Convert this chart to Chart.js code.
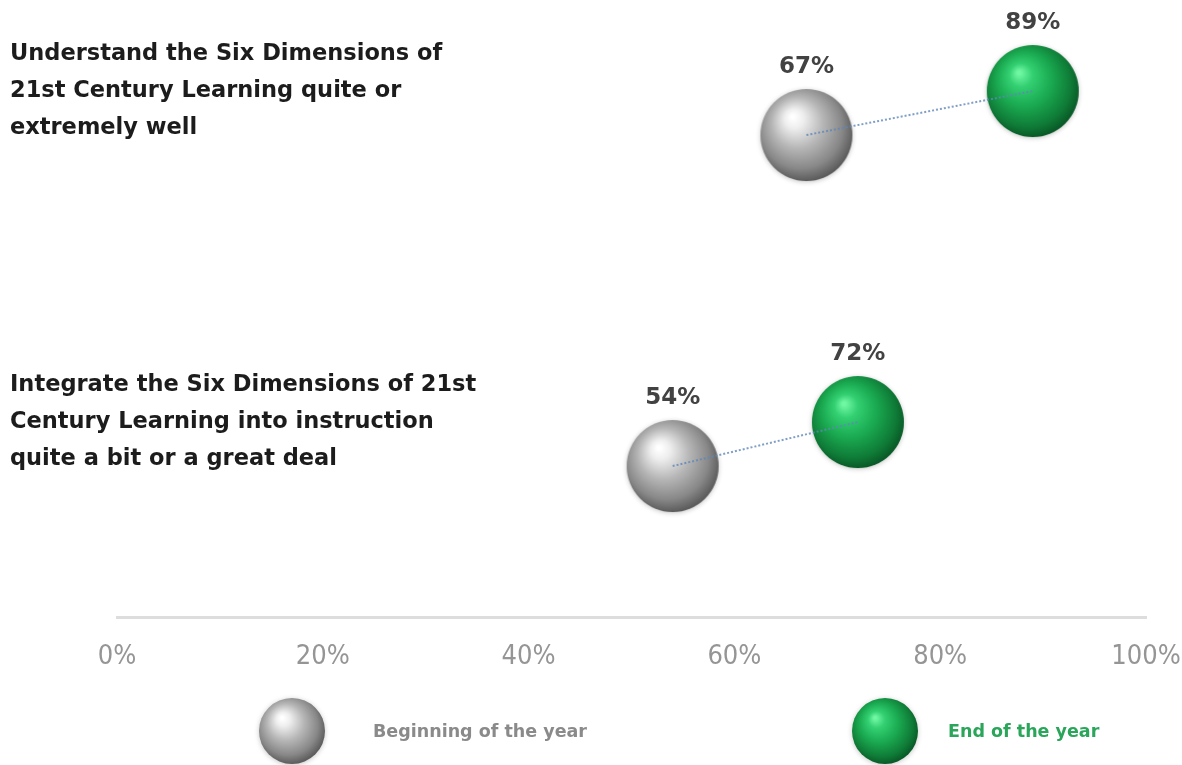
<!DOCTYPE html>
<html>
<head>
<meta charset="utf-8">
<script src="https://cdn.jsdelivr.net/npm/chart.js@4.4.1/dist/chart.umd.min.js"></script>
<style>
  html, body { margin: 0; padding: 0; background: #ffffff; }
  #wrap { width: 1182px; height: 765px; }
</style>
</head>
<body>
<div id="wrap"><canvas id="chart" width="1182" height="765"></canvas></div>
<script>
// Survey statements, one row each (top to bottom)
const statements = [
  ['Understand the Six Dimensions of', '21st Century Learning quite or', 'extremely well'],
  ['Integrate the Six Dimensions of 21st', 'Century Learning into instruction', 'quite a bit or a great deal']
];
const seriesNames = ['Beginning of the year', 'End of the year'];
const beginningValues = [67, 54];
const endValues = [89, 72];
const xTickValues = [0, 20, 40, 60, 80, 100];

// Styling
const BEGIN_DROP = 0.133;            // beginning-of-year sphere sits a little below its row
const SPHERE_R = 46;
const LEGEND_R = 33;
const LABEL_FONT = '"DejaVu Sans", "Open Sans", sans-serif';
const AXIS_FONT = '"DejaVu Sans Condensed", "Liberation Sans Narrow", "Open Sans", sans-serif';

const grayStops = [[0, '#ffffff'], [0.16, '#eeeeee'], [0.48, '#b6b6b6'], [0.8, '#888888'], [1, '#5c5c5c']];
const greenStops = [[0, '#6ff7a2'], [0.2, '#33d072'], [0.52, '#1aa950'], [0.84, '#0f7b37'], [1, '#095a27']];

function makeSphere(r, stops) {
  const pad = 6;
  const c = document.createElement('canvas');
  c.width = c.height = 2 * (r + pad);
  const g = c.getContext('2d');
  const cx = r + pad, cy = r + pad;
  g.save();
  g.shadowColor = 'rgba(0,0,0,0.22)';
  g.shadowBlur = 5;
  g.shadowOffsetY = 1;
  const grad = g.createRadialGradient(cx - r * 0.3, cy - r * 0.4, r * 0.04, cx - r * 0.08, cy - r * 0.12, r * 1.12);
  stops.forEach(([o, col]) => grad.addColorStop(o, col));
  g.fillStyle = grad;
  g.beginPath();
  g.arc(cx, cy, r, 0, Math.PI * 2);
  g.fill();
  g.restore();
  return c;
}

const spheres = [makeSphere(SPHERE_R, grayStops), makeSphere(SPHERE_R, greenStops)];
const legendSpheres = [makeSphere(LEGEND_R, grayStops), makeSphere(LEGEND_R, greenStops)];
const legendTextColors = ['#8a8a8a', '#2aa55a'];

const rowY = i => statements.length - 1 - i;

// Dotted connector between the two spheres of each row, drawn above the grey one
const connectorPlugin = {
  id: 'connector',
  afterDatasetDraw(chart, args) {
    if (args.index !== 0) return;
    const a = chart.getDatasetMeta(0).data;
    const b = chart.getDatasetMeta(1).data;
    const ctx = chart.ctx;
    ctx.save();
    ctx.setLineDash([2, 2]);
    ctx.lineWidth = 2;
    ctx.strokeStyle = 'rgba(95,135,185,0.8)';
    a.forEach((p, i) => {
      ctx.beginPath();
      ctx.moveTo(p.x, p.y);
      ctx.lineTo(b[i].x, b[i].y);
      ctx.stroke();
    });
    ctx.restore();
  }
};

// Percentage above every sphere
const valueLabelPlugin = {
  id: 'valueLabels',
  afterDatasetsDraw(chart) {
    const ctx = chart.ctx;
    ctx.save();
    ctx.font = 'bold 23px ' + LABEL_FONT;
    ctx.fillStyle = '#424242';
    ctx.textAlign = 'center';
    ctx.textBaseline = 'middle';
    chart.data.datasets.forEach((ds, di) => {
      chart.getDatasetMeta(di).data.forEach((p, i) => {
        ctx.fillText(ds.data[i].x + '%', p.x, p.y - SPHERE_R - 22);
      });
    });
    ctx.restore();
  }
};

// Legend row under the axis
const sphereLegendPlugin = {
  id: 'sphereLegend',
  afterDraw(chart) {
    const ctx = chart.ctx;
    const cy = 731;
    const sphereX = [292, 885];
    const textX = [373, 948];
    ctx.save();
    ctx.font = 'bold 17.5px ' + LABEL_FONT;
    ctx.textBaseline = 'middle';
    ctx.textAlign = 'left';
    chart.data.datasets.forEach((ds, i) => {
      const img = legendSpheres[i];
      ctx.drawImage(img, sphereX[i] - img.width / 2, cy - img.height / 2);
      ctx.fillStyle = legendTextColors[i];
      ctx.fillText(ds.label, textX[i], cy + 1);
    });
    ctx.restore();
  }
};

function build() {
  new Chart(document.getElementById('chart'), {
    type: 'scatter',
    data: {
      datasets: [
        {
          label: seriesNames[0],
          data: beginningValues.map((v, i) => ({ x: v, y: rowY(i) - BEGIN_DROP })),
          pointStyle: spheres[0],
          pointRadius: SPHERE_R,
          clip: false
        },
        {
          label: seriesNames[1],
          data: endValues.map((v, i) => ({ x: v, y: rowY(i) })),
          pointStyle: spheres[1],
          pointRadius: SPHERE_R,
          clip: false
        }
      ]
    },
    options: {
      responsive: false,
      animation: false,
      devicePixelRatio: 1,
      layout: { autoPadding: false, padding: { left: 0, right: 36, top: 0, bottom: 90 } },
      plugins: {
        legend: { display: false },
        tooltip: { enabled: false }
      },
      scales: {
        x: {
          type: 'linear',
          min: 0,
          max: 100,
          afterBuildTicks: s => { s.ticks = xTickValues.map(v => ({ value: v })); },
          afterFit: s => { s.height = 58; s.paddingLeft = 0; s.paddingRight = 0; },
          grid: { display: false, drawTicks: false },
          border: { display: true, color: '#dddddd', width: 3 },
          ticks: {
            autoSkip: false,
            maxRotation: 0,
            padding: 24,
            color: '#959595',
            font: { family: AXIS_FONT, size: 27 },
            callback: v => v + '%'
          }
        },
        y: {
          type: 'linear',
          min: -0.589,
          max: 1.275,
          afterBuildTicks: s => { s.ticks = statements.map((_, i) => ({ value: rowY(i) })); },
          afterFit: s => { s.width = 117; s.paddingTop = 0; s.paddingBottom = 0; },
          grid: { display: false, drawTicks: false },
          border: { display: false },
          ticks: {
            mirror: true,
            padding: -107,
            autoSkip: false,
            color: '#1c1c1c',
            font: { family: LABEL_FONT, size: 22.5, weight: 'bold', lineHeight: 1.66 },
            callback: (v, idx) => statements[idx]
          }
        }
      }
    },
    plugins: [connectorPlugin, valueLabelPlugin, sphereLegendPlugin]
  });
}

Promise.all([
  document.fonts.load('bold 22px "DejaVu Sans"'),
  document.fonts.load('27px "DejaVu Sans Condensed"')
]).then(build, build);
</script>
</body>
</html>
